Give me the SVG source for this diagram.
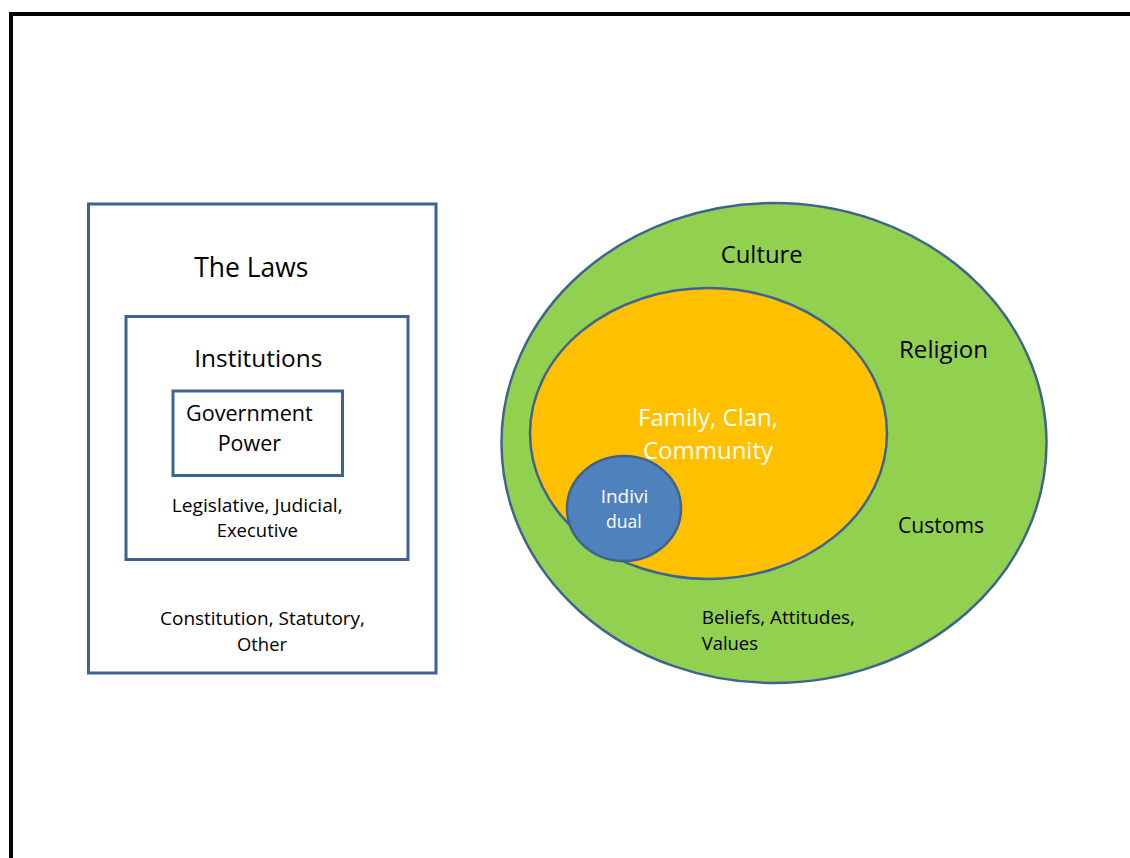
<svg xmlns="http://www.w3.org/2000/svg" width="1130" height="858" viewBox="0 0 1130 858">
<style>
.box{fill:#ffffff;stroke:#3F6391;stroke-width:3}
.ell{stroke:#3F6391;stroke-width:2.5}
text{font-family:"Open Sans","Noto Sans","Liberation Sans",sans-serif;fill:#000}
.w{fill:#ffffff}
</style>
<rect width="1130" height="858" fill="#ffffff"/>
<path d="M11,858 V14 H1130" fill="none" stroke="#000" stroke-width="4"/>
<g id="laws">
<rect class="box" x="88.5" y="204" width="347.5" height="469"/>
<text x="194.3" y="276.7" font-size="28" textLength="114" lengthAdjust="spacingAndGlyphs">The Laws</text>
<text x="160" y="625" font-size="18.5" textLength="205" lengthAdjust="spacingAndGlyphs">Constitution, Statutory,</text>
<text x="237" y="650.7" font-size="18.5" textLength="50" lengthAdjust="spacingAndGlyphs">Other</text>
</g>
<g id="institutions">
<rect class="box" x="126" y="316.5" width="282" height="243"/>
<text x="194.3" y="366.7" font-size="24" textLength="128" lengthAdjust="spacingAndGlyphs">Institutions</text>
<text x="171.7" y="511.7" font-size="18.5" textLength="171" lengthAdjust="spacingAndGlyphs">Legislative, Judicial,</text>
<text x="216.7" y="537" font-size="18.5" textLength="81.3" lengthAdjust="spacingAndGlyphs">Executive</text>
</g>
<g id="government">
<rect class="box" x="173" y="391" width="169.5" height="84.5"/>
<text x="186" y="421" font-size="22" textLength="126.7" lengthAdjust="spacingAndGlyphs">Government</text>
<text x="217.7" y="451" font-size="22" textLength="63.3" lengthAdjust="spacingAndGlyphs">Power</text>
</g>
<g id="culture">
<ellipse class="ell" cx="774" cy="443" rx="272.5" ry="240" fill="#92D050"/>
<text x="720.7" y="263.3" font-size="23" textLength="82" lengthAdjust="spacingAndGlyphs">Culture</text>
<text x="899" y="357.5" font-size="23" textLength="89" lengthAdjust="spacingAndGlyphs">Religion</text>
<text x="898" y="532.7" font-size="21" textLength="86" lengthAdjust="spacingAndGlyphs">Customs</text>
<text x="701.7" y="624" font-size="18.5" textLength="153.3" lengthAdjust="spacingAndGlyphs">Beliefs, Attitudes,</text>
<text x="701.7" y="650" font-size="18.5" textLength="56.3" lengthAdjust="spacingAndGlyphs">Values</text>
</g>
<g id="family">
<ellipse class="ell" cx="708.5" cy="433.5" rx="178.5" ry="145.5" fill="#FFC000"/>
<text class="w" x="638" y="426" font-size="23" textLength="140" lengthAdjust="spacingAndGlyphs">Family, Clan,</text>
<text class="w" x="643" y="459.3" font-size="23" textLength="130" lengthAdjust="spacingAndGlyphs">Community</text>
</g>
<g id="individual">
<ellipse class="ell" cx="624" cy="508.5" rx="57" ry="52.5" fill="#4F81BD"/>
<text class="w" x="600.7" y="503.3" font-size="18" textLength="47.6" lengthAdjust="spacingAndGlyphs">Indivi</text>
<text class="w" x="606" y="528.3" font-size="18" textLength="35.7" lengthAdjust="spacingAndGlyphs">dual</text>
</g>
<g id="connectors"></g>
</svg>
